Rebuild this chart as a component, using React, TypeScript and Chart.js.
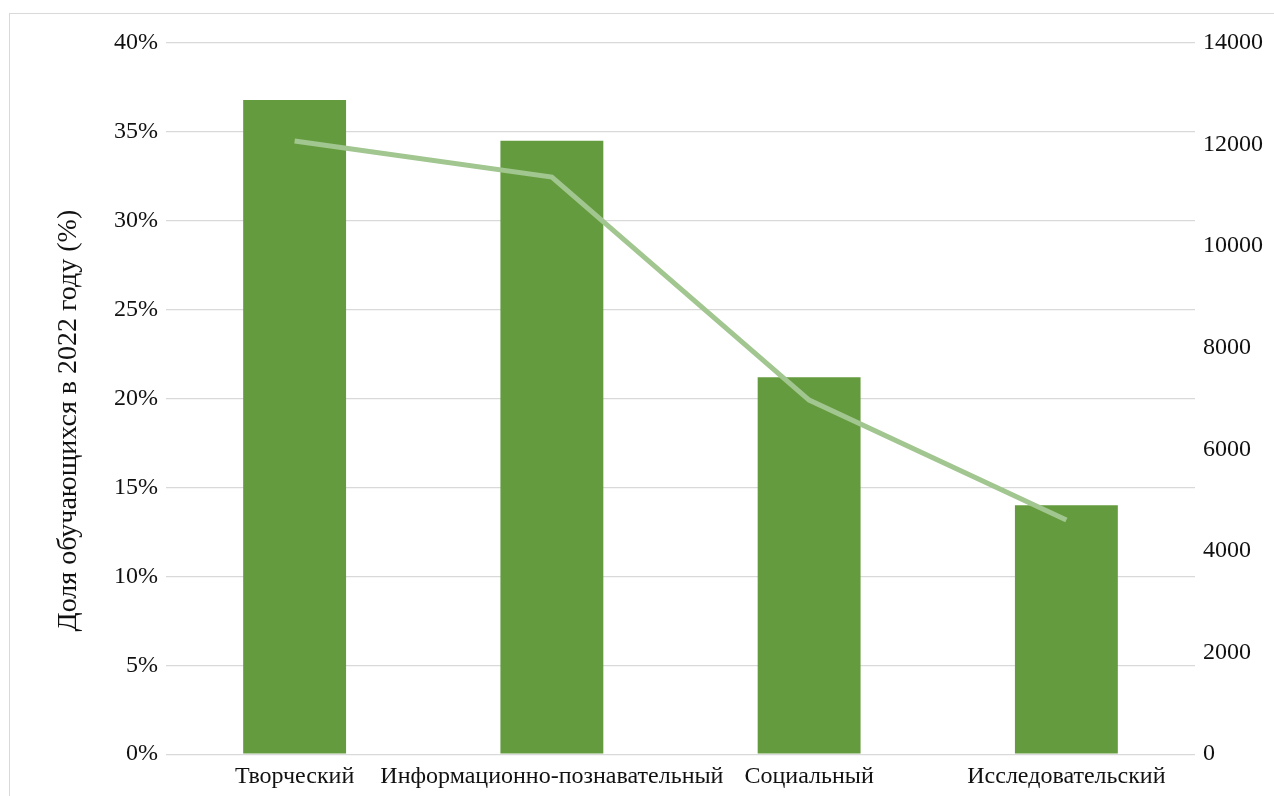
import React, { useEffect, useRef } from "react";
import { Chart, registerables } from "chart.js";

Chart.register(...registerables);

const categories = ["Творческий", "Информационно-познавательный", "Социальный", "Исследовательский"];
const sharePercent = [36.8, 34.5, 21.2, 14.0];
const studentCount = [12070, 11360, 6970, 4610];
const leftTicks = [0, 5, 10, 15, 20, 25, 30, 35, 40];
const rightTicks = [0, 2000, 4000, 6000, 8000, 10000, 12000, 14000];
const yTitle = "Доля обучающихся в 2022 году (%)";

const FONT = "'Liberation Serif', 'Times New Roman', serif";

const titlePlugin = {
  id: "leftTitle",
  afterDraw(chart: any) {
    const { ctx, chartArea } = chart;
    ctx.save();
    ctx.font = `28px ${FONT}`;
    ctx.fillStyle = "#111";
    ctx.textAlign = "center";
    ctx.textBaseline = "middle";
    ctx.translate(69, (chartArea.top + chartArea.bottom) / 2 + 22);
    ctx.rotate(-Math.PI / 2);
    ctx.fillText(yTitle, 0, 0);
    ctx.restore();
  },
};

export default function App() {
  const ref = useRef<HTMLCanvasElement | null>(null);

  useEffect(() => {
    if (!ref.current) return;
    const chart = new Chart(ref.current, {
      type: "bar",
      data: {
        labels: categories,
        datasets: [
          {
            type: "line",
            data: studentCount,
            yAxisID: "y1",
            borderColor: "#A1C68F",
            borderWidth: 5,
            pointRadius: 0,
            tension: 0,
            fill: false,
            order: 0,
          } as any,
          {
            type: "bar",
            data: sharePercent,
            yAxisID: "y",
            backgroundColor: "#659B3F",
            barPercentage: 0.4,
            categoryPercentage: 1,
            order: 1,
          },
        ],
      },
      options: {
        responsive: true,
        maintainAspectRatio: false,
        animation: false,
        layout: { padding: { left: 106, right: 3, top: 43, bottom: -3 } },
        plugins: { legend: { display: false }, tooltip: { enabled: false } },
        scales: {
          x: {
            grid: { display: false, drawTicks: false },
            border: { display: false },
            ticks: {
              autoSkip: false,
              maxRotation: 0,
              minRotation: 0,
              padding: 8,
              color: "#111",
              font: { family: FONT, size: 24 },
            },
          },
          y: {
            position: "left",
            min: 0,
            max: 40,
            afterBuildTicks: (axis: any) => {
              axis.ticks = leftTicks.map((v) => ({ value: v }));
            },
            grid: { color: "#d9d9d9", lineWidth: 1.3, drawTicks: false },
            border: { display: false },
            ticks: {
              padding: 8,
              color: "#111",
              font: { family: FONT, size: 24 },
              callback: (v: any) => `${v}%`,
            },
          },
          y1: {
            position: "right",
            min: 0,
            max: 14000,
            afterBuildTicks: (axis: any) => {
              axis.ticks = rightTicks.map((v) => ({ value: v }));
            },
            grid: { display: false, drawTicks: false },
            border: { display: false },
            ticks: {
              padding: 8,
              color: "#111",
              font: { family: FONT, size: 24 },
              callback: (v: any) => `${v}`,
            },
          },
        },
      },
      plugins: [titlePlugin],
    });
    return () => chart.destroy();
  }, []);

  return (
    <div style={{ position: "absolute", left: 0, top: 0, width: 1274, height: 796, overflow: "hidden", background: "#fff" }}>
      <div
        style={{
          position: "absolute",
          left: 9,
          top: 13,
          width: 1300,
          height: 900,
          border: "1.3px solid #d9d9d9",
          boxSizing: "border-box",
        }}
      />
      <div style={{ position: "absolute", left: 0, top: 0, width: 1274, height: 796 }}>
        <canvas ref={ref} />
      </div>
    </div>
  );
}
